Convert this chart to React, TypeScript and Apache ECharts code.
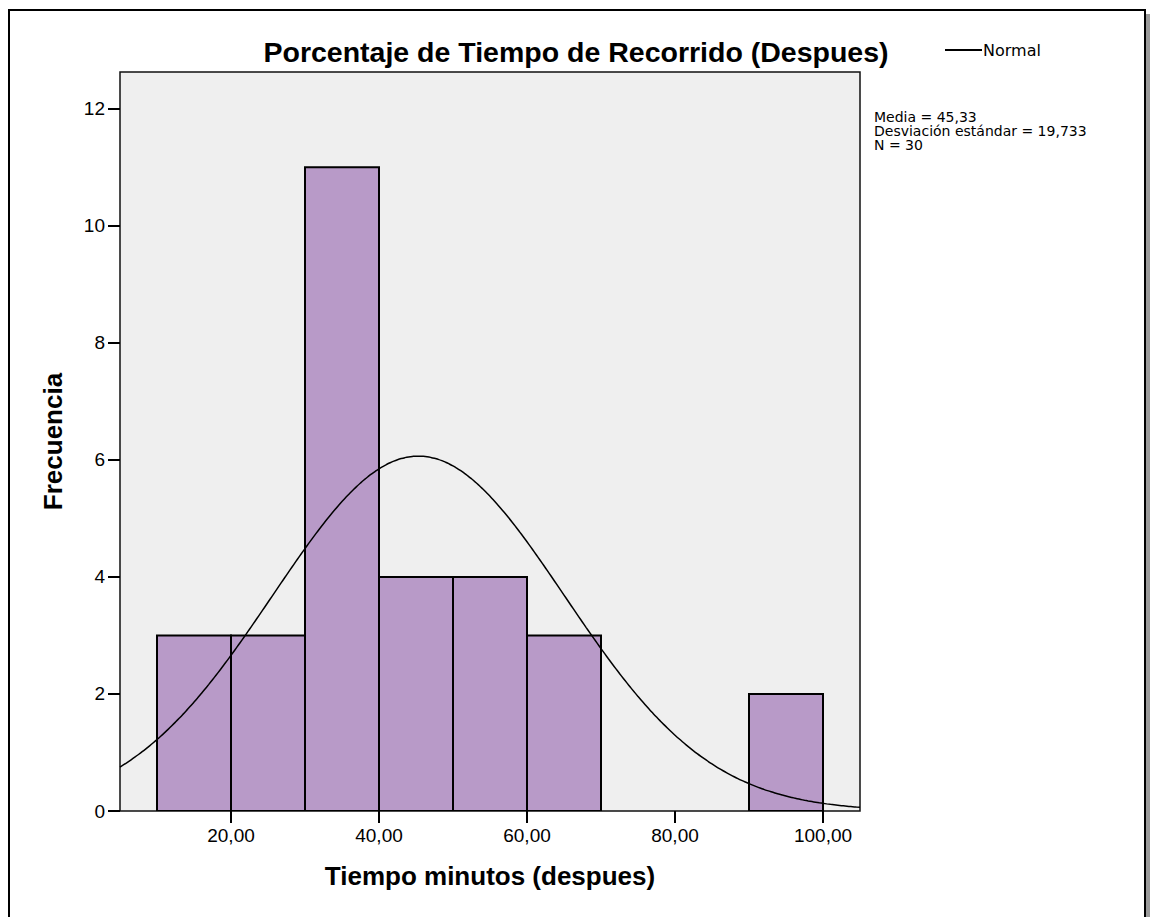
import React, { useEffect, useRef } from "react";
import * as echarts from "echarts";

const binStarts = [10, 20, 30, 40, 50, 60, 70, 80, 90];
const binWidth = 10;
const frequencies = [3, 3, 11, 4, 4, 3, 0, 0, 2];
const xTicks = [20, 40, 60, 80, 100];
const yTicks = [0, 2, 4, 6, 8, 10, 12];
const mean = 45.33;
const stdDev = 19.733;
const nCount = 30;
const titleText = "Porcentaje de Tiempo de Recorrido (Despues)";
const statsLines = ["Media = 45,33", "Desviación estándar = 19,733", "N = 30"];

const X_MIN = 5;
const X_MAX = 105;

function normalCurve(): number[][] {
  const pts: number[][] = [];
  const k = (nCount * binWidth) / (stdDev * Math.sqrt(2 * Math.PI));
  for (let x = X_MIN; x <= X_MAX + 0.001; x += 0.5) {
    const z = (x - mean) / stdDev;
    pts.push([x, k * Math.exp(-0.5 * z * z)]);
  }
  return pts;
}

export default function App() {
  const ref = useRef<HTMLDivElement>(null);
  useEffect(() => {
    if (!ref.current) return;
    const chart = echarts.init(ref.current, null, { renderer: "svg" });
    const barData = binStarts
      .map((s, i) => [s, s + binWidth, frequencies[i]])
      .filter((d) => d[2] > 0);
    const fmt = (v: number) => v.toFixed(2).replace(".", ",");
    chart.setOption({
      animation: false,
      backgroundColor: "#ffffff",
      title: {
        text: titleText,
        left: "center",
        top: 32,
        textStyle: {
          fontFamily: "Liberation Sans",
          fontWeight: "bold",
          fontSize: 28.5,
          color: "#000",
        },
      },
      legend: {
        left: 940,
        top: 37,
        itemWidth: 37,
        itemHeight: 2,
        itemGap: 0,
        icon: "rect",
        data: [{ name: "Normal", itemStyle: { color: "#000" } }],
        textStyle: { fontFamily: "DejaVu Sans", fontSize: 16, color: "#000", padding: [0, 0, 0, -4] },
      },
      grid: {
        left: 120,
        top: 72,
        width: 740,
        height: 739,
        show: true,
        backgroundColor: "#EFEFEF",
        borderColor: "#111",
        borderWidth: 1.5,
        containLabel: false,
      },
      xAxis: {
        type: "value",
        min: X_MIN,
        max: X_MAX,
        name: "Tiempo minutos (despues)",
        nameLocation: "middle",
        nameGap: 52,
        nameTextStyle: {
          fontFamily: "Liberation Sans",
          fontWeight: "bold",
          fontSize: 26,
          color: "#000",
        },
        axisLine: { show: false },
        splitLine: { show: false },
        axisTick: {
          show: true,
          length: 12,
          inside: false,
          customValues: xTicks,
          lineStyle: { color: "#000", width: 2 },
        },
        axisLabel: {
          customValues: xTicks,
          formatter: (v: number) => fmt(v),
          margin: 15,
          fontFamily: "Liberation Sans",
          fontSize: 19,
          color: "#000",
        },
      },
      yAxis: {
        type: "value",
        min: 0,
        max: 12.63,
        name: "Frecuencia",
        nameLocation: "middle",
        nameGap: 54,
        nameTextStyle: {
          fontFamily: "Liberation Sans",
          fontWeight: "bold",
          fontSize: 26,
          color: "#000",
        },
        axisLine: { show: false },
        splitLine: { show: false },
        axisTick: {
          show: true,
          length: 12,
          inside: false,
          customValues: yTicks,
          lineStyle: { color: "#000", width: 2 },
        },
        axisLabel: {
          customValues: yTicks,
          margin: 15,
          fontFamily: "Liberation Sans",
          fontSize: 19,
          color: "#000",
        },
      },
      graphic: [
        {
          type: "rect",
          shape: { x: 1146, y: 14, width: 4, height: 910 },
          style: { fill: "#9a9a9a" },
          silent: true,
        },
        {
          type: "rect",
          shape: { x: 9, y: 10, width: 1136, height: 920 },
          style: { fill: "none", stroke: "#000", lineWidth: 2 },
          silent: true,
        },
        {
          type: "text",
          left: 874,
          top: 110,
          style: {
            text: statsLines.join("\n"),
            fontFamily: "DejaVu Sans",
            fontSize: 14,
            lineHeight: 14,
            fill: "#000",
          },
          silent: true,
        },
      ],
      series: [
        {
          type: "custom",
          name: "Frecuencia",
          data: barData,
          z: 2,
          clip: true,
          encode: { x: [0, 1], y: 2 },
          renderItem: (params: any, api: any) => {
            const p0 = api.coord([api.value(0), api.value(2)]);
            const p1 = api.coord([api.value(1), 0]);
            return {
              type: "rect",
              shape: { x: p0[0], y: p0[1], width: p1[0] - p0[0], height: p1[1] - p0[1] },
              style: { fill: "#B89AC8", stroke: "#000", lineWidth: 2 },
            };
          },
        },
        {
          type: "line",
          name: "Normal",
          data: normalCurve(),
          showSymbol: false,
          symbol: "none",
          smooth: true,
          clip: true,
          z: 3,
          lineStyle: { color: "#000", width: 1.5 },
          itemStyle: { color: "#000" },
        },
      ],
    });
    return () => chart.dispose();
  }, []);
  return (
    <div
      ref={ref}
      style={{ position: "fixed", left: 0, top: 0, width: 1152, height: 917 }}
    />
  );
}
